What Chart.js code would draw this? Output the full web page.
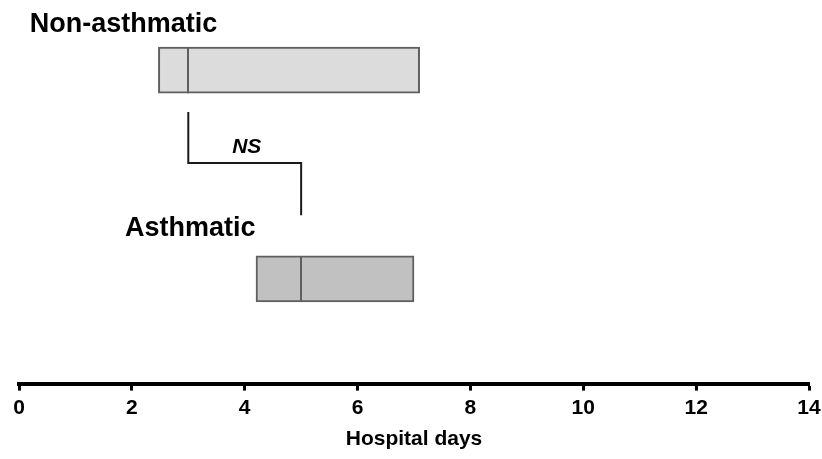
<!DOCTYPE html>
<html>
<head>
<meta charset="utf-8">
<script src="https://cdn.jsdelivr.net/npm/chart.js@4"></script>
<style>
  html, body { margin: 0; padding: 0; background: #fff; }
  #wrap { width: 822px; height: 459px; }
</style>
</head>
<body>
<div id="wrap"><canvas id="hospital-days" width="822" height="459"></canvas></div>
<script>
// groups and their interquartile boxes (hospital days)
var groups = ["Non-asthmatic", "Asthmatic"];
var q1 = [2.47, 4.2];
var median = [3.0, 5.0];
var q3 = [7.1, 7.0];
var xTicks = [0, 2, 4, 6, 8, 10, 12, 14];
var pLabel = "NS";

// vertical placement of the rows on a hidden 0-10 axis
var rowY = [8.17, 2.73];
var labelY = [9.37, 4.05];
var labelX = [0.19, 1.88];
var bracketY = [7.08, 5.75, 4.39];

var sans = "'Liberation Sans', Arial, sans-serif";

var element = document.getElementById("hospital-days");

var boxData = groups.map(function(g, i) {
  return { x: [q1[i], q3[i]], y: rowY[i] };
});

var bracketData = [
  { x: median[0], y: bracketY[0] },
  { x: median[0], y: bracketY[1] },
  { x: median[1], y: bracketY[1] },
  { x: median[1], y: bracketY[2] }
];

var extras = {
  id: "extras",
  afterDatasetsDraw: function(chart) {
    var ctx = chart.ctx;
    var xs = chart.scales.x, ys = chart.scales.y;
    var meta = chart.getDatasetMeta(0);

    // median lines inside the boxes
    ctx.save();
    ctx.strokeStyle = "#5f5f5f";
    ctx.lineWidth = 2;
    meta.data.forEach(function(bar, i) {
      var px = Math.round(xs.getPixelForValue(median[i]));
      var half = bar.height / 2;
      ctx.beginPath();
      ctx.moveTo(px, bar.y - half);
      ctx.lineTo(px, bar.y + half);
      ctx.stroke();
    });

    // group names
    ctx.fillStyle = "#000";
    ctx.textBaseline = "middle";
    ctx.textAlign = "left";
    ctx.font = "bold 27px " + sans;
    groups.forEach(function(g, i) {
      ctx.fillText(g, xs.getPixelForValue(labelX[i]), ys.getPixelForValue(labelY[i]));
    });

    // significance mark
    ctx.textAlign = "center";
    ctx.font = "italic bold 21px " + sans;
    ctx.fillText(pLabel, xs.getPixelForValue((median[0] + median[1]) / 2) + 2,
      ys.getPixelForValue(bracketY[1]) - 16);
    ctx.restore();
  }
};

var chart = new Chart(element, {
  type: "bar",
  data: {
    datasets: [
      {
        type: "bar",
        label: "IQR",
        data: boxData,
        backgroundColor: ["#dcdcdc", "#c1c1c1"],
        borderColor: "#5f5f5f",
        borderWidth: 2,
        borderSkipped: false,
        barThickness: 46
      },
      {
        type: "line",
        label: "bracket",
        data: bracketData,
        borderColor: "#1a1a1a",
        borderWidth: 2,
        pointRadius: 0,
        tension: 0,
        fill: false
      }
    ]
  },
  options: {
    indexAxis: "y",
    responsive: false,
    animation: false,
    layout: { padding: { left: 19, right: 13, top: 0, bottom: 7 } },
    plugins: {
      legend: { display: false },
      tooltip: { enabled: false }
    },
    scales: {
      x: {
        type: "linear",
        min: 0,
        max: 14,
        offset: false,
        afterBuildTicks: function(scale) {
          scale.ticks = xTicks.map(function(v) { return { value: v }; });
        },
        afterFit: function(scale) {
          // let the last label hang into the right margin
          scale.paddingLeft = 0;
          scale.paddingRight = 0;
        },
        border: { display: true, color: "#000", width: 4 },
        grid: {
          offset: false,
          drawOnChartArea: false,
          drawTicks: true,
          tickLength: 7,
          tickWidth: 3,
          tickColor: "#000"
        },
        ticks: {
          color: "#000",
          padding: 5,
          maxRotation: 0,
          font: { family: sans, size: 21, weight: "bold" }
        },
        title: {
          display: true,
          text: "Hospital days",
          color: "#000",
          padding: { top: 1, bottom: 0 },
          font: { family: sans, size: 21, weight: "bold" }
        }
      },
      y: {
        type: "linear",
        display: false,
        offset: false,
        grid: { offset: false },
        min: 0,
        max: 10
      }
    }
  },
  plugins: [extras]
});
</script>
</body>
</html>
